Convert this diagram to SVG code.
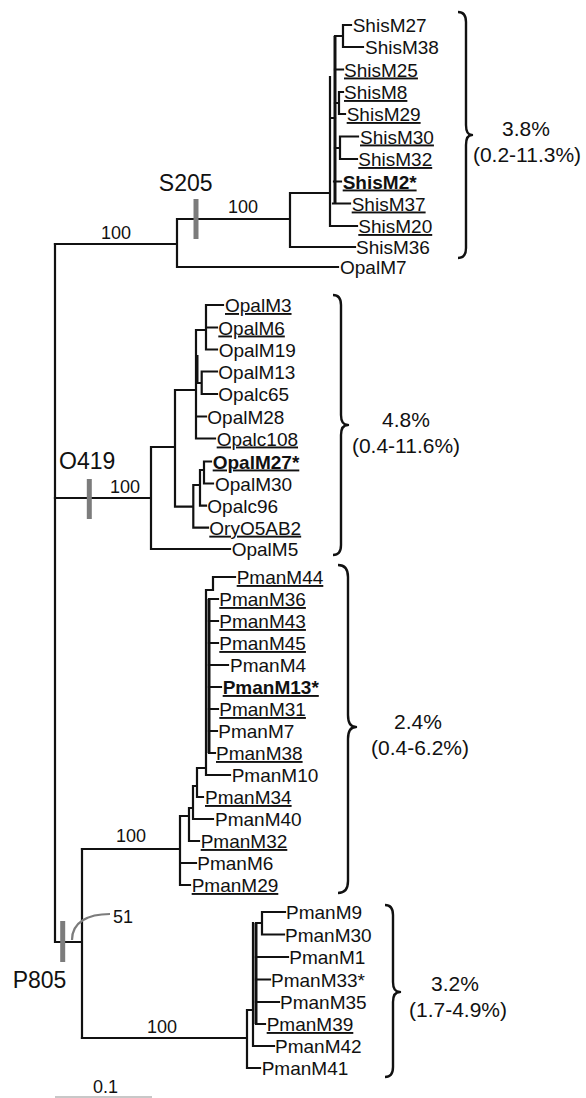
<svg xmlns="http://www.w3.org/2000/svg" width="586" height="1098" viewBox="0 0 586 1098">
<style>
.br{fill:none;stroke:#111;stroke-width:2.2;stroke-linecap:square}
.tk{fill:none;stroke:#111;stroke-width:3}
.bar{fill:none;stroke:#7c7c7c;stroke-width:5}
.gc{fill:none;stroke:#7c7c7c;stroke-width:2.2}
.brace{fill:none;stroke:#111;stroke-width:2.4;stroke-linejoin:round}
text{font-family:"Liberation Sans",Arial,sans-serif;fill:#111}
.lf{font-size:19px}
.u{text-decoration:underline}
.b{font-weight:bold}
.bs{font-size:18px;text-anchor:middle}
.cl{font-size:23px}
.pc{font-size:21px;text-anchor:middle}
</style>
<rect width="586" height="1098" fill="#fff"/>
<g id="connectors">
<path class="br" d="M55,244V942H82M82,849V1038"/>
<path class="br" d="M55,244H177M177,219V267H338M177,219H290M290,193V247H355M290,193H330M330,77V226H357M330,118H335"/>
<path class="tk" d="M335,36V203"/>
<path class="br" d="M335,36H343M343,25V47M343,25H351M343,47H363M335,69.5H343M335,103H339M339,92V114M339,92H343M339,114H345M335,148H340M340,136.5V159M340,136.5H358M340,159H357M334,181.5H341M333,203.5H350"/>
<path class="br" d="M55,498H151M151,447V549H230M151,447H175M175,390V506.7M175,390H196M196,330V438.5M196,330H206M206,305V349.5M206,305H223M206,327.5H217M206,349.5H217M196,383H201.7M201.7,371.5V394M201.7,371.5H217M201.7,394H217M196,416.5H206M196,438.5H215M175,506.7H193.3M193.3,485V527.7H208M193.3,485H200M200,470V505.7H206M200,470H204M204,461.5V483.5M204,461.5H211M204,483.5H213"/>
<path class="tk" d="M197,355V382"/>
<path class="br" d="M82,849H180M180,816V885H190M180,863H196M180,816H189M189,808V841H199M189,808H193M193,786V819H213M193,786H197M197,768V797H203M197,768H206M206,590V775H230M206,590H213M213,577V590M213,577H235"/>
<path class="tk" d="M209,599V753"/>
<path class="br" d="M209,599H218M209,621H218M209,643H218M209,665H228M209,687H221M209,709H218M209,731H217M209,753H215"/>
<path class="br" d="M82,1038H247M247,1010V1068H260M247,1010H253M253,923V1046H274M256,923H262M262,912V934.5M262,912H285M262,934.5H284"/>
<path class="tk" d="M256,923V1024"/>
<path class="br" d="M256,1024H265M256,1002H279M256,979.5H270M256,957H288"/>
<path class="gc" d="M72,940C72,922 88,914 110,914"/>
</g>
<g id="markers">
<path class="bar" d="M196,199V239"/>
<path class="bar" d="M89.3,479V519"/>
<path class="bar" d="M62.7,921V962"/>
</g>
<g id="support">
<text class="bs" x="116" y="239">100</text>
<text class="bs" x="243" y="213">100</text>
<text class="bs" x="125" y="493">100</text>
<text class="bs" x="131" y="842">100</text>
<text class="bs" x="162" y="1033">100</text>
<text class="bs" x="123" y="923">51</text>
</g>
<g id="S205"><text class="cl" x="185.7" y="191" text-anchor="middle">S205</text></g>
<g id="O419"><text class="cl" x="59" y="469">O419</text></g>
<g id="P805"><text class="cl" x="12.7" y="988">P805</text></g>
<g id="shis-leaves">
<g id="ShisM27"><text class="lf" x="352.7" y="32">ShisM27</text></g>
<g id="ShisM38"><text class="lf" x="365" y="54">ShisM38</text></g>
<g id="ShisM25"><text class="lf u" x="344" y="76.5">ShisM25</text></g>
<g id="ShisM8"><text class="lf u" x="344" y="99">ShisM8</text></g>
<g id="ShisM29"><text class="lf u" x="346.7" y="121">ShisM29</text></g>
<g id="ShisM30"><text class="lf u" x="360" y="143.5">ShisM30</text></g>
<g id="ShisM32"><text class="lf u" x="358.3" y="166">ShisM32</text></g>
<g id="ShisM2"><text class="lf u b" x="342.7" y="188.5">ShisM2*</text></g>
<g id="ShisM37"><text class="lf u" x="351.7" y="210.5">ShisM37</text></g>
<g id="ShisM20"><text class="lf u" x="358.3" y="233">ShisM20</text></g>
<g id="ShisM36"><text class="lf" x="356" y="254">ShisM36</text></g>
<g id="OpalM7"><text class="lf" x="340" y="274">OpalM7</text></g>
</g>
<g id="opal-leaves">
<g id="OpalM3"><text class="lf u" x="225" y="312">OpalM3</text></g>
<g id="OpalM6"><text class="lf u" x="218.3" y="334.5">OpalM6</text></g>
<g id="OpalM19"><text class="lf" x="218.7" y="356.5">OpalM19</text></g>
<g id="OpalM13"><text class="lf" x="218.3" y="378.5">OpalM13</text></g>
<g id="Opalc65"><text class="lf" x="218.3" y="401">Opalc65</text></g>
<g id="OpalM28"><text class="lf" x="207.3" y="423.5">OpalM28</text></g>
<g id="Opalc108"><text class="lf u" x="216.7" y="445.5">Opalc108</text></g>
<g id="OpalM27"><text class="lf u b" x="212.7" y="468.5">OpalM27*</text></g>
<g id="OpalM30"><text class="lf" x="215" y="490.5">OpalM30</text></g>
<g id="Opalc96"><text class="lf" x="207.3" y="512.7">Opalc96</text></g>
<g id="OryO5AB2"><text class="lf u" x="209.3" y="534.7">OryO5AB2</text></g>
<g id="OpalM5"><text class="lf" x="231.7" y="556">OpalM5</text></g>
</g>
<g id="pman1-leaves">
<g id="PmanM44"><text class="lf u" x="236.7" y="584">PmanM44</text></g>
<g id="PmanM36"><text class="lf u" x="219.3" y="606">PmanM36</text></g>
<g id="PmanM43"><text class="lf u" x="219.3" y="628">PmanM43</text></g>
<g id="PmanM45"><text class="lf u" x="219.3" y="650">PmanM45</text></g>
<g id="PmanM4"><text class="lf" x="230" y="672">PmanM4</text></g>
<g id="PmanM13"><text class="lf u b" x="222.7" y="694">PmanM13*</text></g>
<g id="PmanM31"><text class="lf u" x="219.3" y="716">PmanM31</text></g>
<g id="PmanM7"><text class="lf" x="218.3" y="738">PmanM7</text></g>
<g id="PmanM38"><text class="lf u" x="216" y="760">PmanM38</text></g>
<g id="PmanM10"><text class="lf" x="231.7" y="782">PmanM10</text></g>
<g id="PmanM34"><text class="lf u" x="205" y="804">PmanM34</text></g>
<g id="PmanM40"><text class="lf" x="215" y="826">PmanM40</text></g>
<g id="PmanM32"><text class="lf u" x="200.7" y="848">PmanM32</text></g>
<g id="PmanM6"><text class="lf" x="197.3" y="870">PmanM6</text></g>
<g id="PmanM29"><text class="lf u" x="191.7" y="892">PmanM29</text></g>
</g>
<g id="pman2-leaves">
<g id="PmanM9"><text class="lf" x="286" y="919">PmanM9</text></g>
<g id="PmanM30"><text class="lf" x="285" y="941.5">PmanM30</text></g>
<g id="PmanM1"><text class="lf" x="289.3" y="964">PmanM1</text></g>
<g id="PmanM33"><text class="lf" x="271" y="986.5">PmanM33*</text></g>
<g id="PmanM35"><text class="lf" x="280" y="1009">PmanM35</text></g>
<g id="PmanM39"><text class="lf u" x="266.7" y="1031">PmanM39</text></g>
<g id="PmanM42"><text class="lf" x="275" y="1053">PmanM42</text></g>
<g id="PmanM41"><text class="lf" x="261.7" y="1075">PmanM41</text></g>
</g>
<g id="braces">
<path class="brace" d="M458,12Q466,12 466,22L466,125Q466,135 472,135Q466,135 466,145L466,248Q466,258 458,258"/>
<path class="brace" d="M333,295Q341,295 341,305L341,415Q341,425 348,425Q341,425 341,435L341,545Q341,555 333,555"/>
<path class="brace" d="M338,565Q348,565 348,577L348,715Q348,727 356,727Q348,727 348,739L348,881Q348,893 338,893"/>
<path class="brace" d="M385,905Q393,905 393,915L393,982Q393,992 400,992Q393,992 393,1002L393,1067Q393,1077 385,1077"/>
</g>
<g id="divergence">
<text class="pc" x="526" y="136">3.8%</text>
<text class="pc" x="527" y="162">(0.2-11.3%)</text>
<text class="pc" x="406" y="427">4.8%</text>
<text class="pc" x="406" y="453">(0.4-11.6%)</text>
<text class="pc" x="418" y="729">2.4%</text>
<text class="pc" x="420" y="755">(0.4-6.2%)</text>
<text class="pc" x="455" y="991">3.2%</text>
<text class="pc" x="458" y="1017">(1.7-4.9%)</text>
</g>
<g id="scale">
<text class="bs" x="105.5" y="1093">0.1</text>
<path d="M55,1097H152" stroke="#c8c8c8" stroke-width="2"/>
</g>
</svg>
